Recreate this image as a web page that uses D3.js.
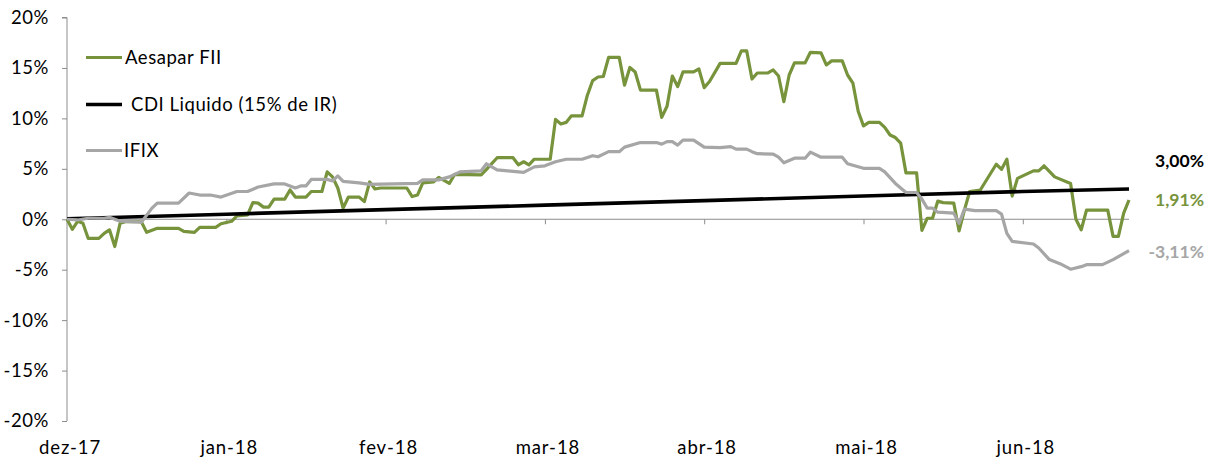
<!DOCTYPE html>
<html>
<head>
<meta charset="utf-8">
<script src="https://cdn.jsdelivr.net/npm/d3@7"></script>
<style>
  body { margin: 0; background: #fff; }
  text { font-family: Lato, "Gill Sans", sans-serif; }
</style>
</head>
<body>
<div id="chart"></div>
<script>
// day index (from 1 Dec 2017) and cumulative return in %
const monthLabels = ["dez-17", "jan-18", "fev-18", "mar-18", "abr-18", "mai-18", "jun-18"];
const monthDays = [0, 30, 60, 90, 120, 150, 180];
const yTicks = [-20, -15, -10, -5, 0, 5, 10, 15, 20];

const aesapar = [
  [0, 0.0], [1, -1.0], [2, -0.2], [3, -0.4], [4, -1.9], [6, -1.9], [7, -1.4], [8, -1.05],
  [9, -2.7], [10, -0.4], [11, -0.25], [14, -0.25], [15, -1.3], [17, -0.9], [21, -0.9],
  [22, -1.2], [24, -1.3], [25, -0.8], [28, -0.8], [29, -0.45], [31, -0.2], [32, 0.33],
  [34, 0.43], [35, 1.65], [36, 1.6], [37, 1.2], [38, 1.2], [39, 2.0], [41, 2.0], [42, 2.9],
  [43, 2.2], [45, 2.2], [46, 2.75], [48, 2.75], [49, 4.7], [50, 4.2], [51, 3.1], [52, 1.1],
  [53, 2.2], [55, 2.2], [56, 1.75], [57, 3.7], [58, 3.0], [59, 3.1], [64, 3.1], [65, 2.25],
  [66, 2.4], [67, 3.6], [69, 3.7], [70, 4.15], [72, 3.55], [73, 4.45], [78, 4.4], [79, 4.95],
  [81, 6.1], [84, 6.1], [85, 5.4], [86, 5.7], [87, 5.4], [88, 5.95], [91, 5.95], [92, 9.9],
  [93, 9.45], [94, 9.6], [95, 10.25], [97, 10.25], [98, 12.3], [99, 13.75], [100, 14.1],
  [101, 14.15], [102, 16.05], [104, 16.05], [105, 13.3], [106, 15.05], [107, 14.6],
  [108, 12.8], [111, 12.8], [112, 10.1], [113, 11.2], [114, 14.2], [115, 13.15], [116, 14.6],
  [118, 14.6], [119, 14.9], [120, 13.05], [121, 13.65], [123, 15.45], [126, 15.45],
  [127, 16.7], [128, 16.7], [129, 13.9], [130, 14.5], [132, 14.5], [133, 14.8], [134, 14.2],
  [135, 11.65], [136, 14.3], [137, 15.5], [139, 15.5], [140, 16.55], [142, 16.5], [143, 15.3],
  [144, 15.7], [146, 15.7], [147, 14.3], [148, 13.5], [149, 10.7], [150, 9.25], [151, 9.6],
  [153, 9.6], [154, 9.1], [155, 8.35], [156, 8.1], [157, 7.55], [158, 4.6], [160, 4.6],
  [161, -1.1], [162, 0.1], [163, 0.1], [164, 1.8], [165, 1.65], [167, 1.6], [168, -1.15],
  [169, 0.9], [170, 2.75], [172, 2.9], [175, 5.45], [176, 4.95], [177, 5.95], [178, 2.3],
  [179, 4.05], [180, 4.3], [182, 4.8], [183, 4.8], [184, 5.3], [186, 4.2], [189, 3.55],
  [190, 0.0], [191, -1.05], [192, 0.9], [196, 0.9], [197, -1.7], [198, -1.7], [199, 0.6],
  [200, 1.91]
];

const cdi = [
  [0, 0.05], [30, 0.5], [60, 0.95], [90, 1.4], [120, 1.85], [150, 2.3], [180, 2.75], [200, 3.0]
];

const ifix = [
  [0, 0.0], [2, -0.07], [4, 0.1], [7, 0.1], [8, 0.2], [10, -0.2], [14, -0.3], [16, 1.1],
  [17, 1.6], [21, 1.6], [23, 2.6], [25, 2.4], [27, 2.4], [29, 2.2], [32, 2.75], [34, 2.75],
  [36, 3.2], [39, 3.5], [41, 3.5], [43, 3.1], [44, 3.3], [45, 3.3], [46, 3.95], [49, 3.95],
  [50, 3.8], [51, 4.3], [52, 3.75], [55, 3.6], [57, 3.45], [66, 3.55], [67, 3.9], [70, 3.9],
  [72, 4.2], [74, 4.7], [78, 4.8], [79, 5.5], [81, 4.9], [83, 4.8], [86, 4.65], [88, 5.2],
  [90, 5.3], [92, 5.7], [94, 5.95], [97, 5.95], [99, 6.3], [100, 6.2], [102, 6.7], [104, 6.7],
  [105, 7.15], [108, 7.6], [111, 7.6], [112, 7.45], [113, 7.7], [114, 7.7], [115, 7.35],
  [116, 7.85], [118, 7.85], [120, 7.15], [123, 7.1], [125, 7.2], [126, 6.95], [128, 6.95],
  [129, 6.7], [130, 6.5], [133, 6.45], [134, 6.15], [135, 5.6], [137, 6.05], [139, 6.05],
  [140, 6.65], [142, 6.15], [146, 6.15], [147, 5.5], [150, 5.05], [153, 5.05], [154, 4.7],
  [156, 3.55], [158, 2.65], [160, 2.65], [161, 2.0], [162, 1.1], [163, 1.1], [164, 0.7],
  [167, 0.6], [168, -0.4], [169, 1.0], [171, 0.85], [175, 0.85], [176, 0.5], [177, -1.4],
  [178, -2.2], [182, -2.45], [183, -2.85], [185, -4.0], [187, -4.4], [189, -4.95],
  [191, -4.7], [192, -4.5], [195, -4.5], [197, -4.0], [198, -3.7], [200, -3.11]
];

const series = [
  { name: "Aesapar FII", data: aesapar, color: "#77933c", width: 3.2, end: "1,91%", legendGap: 3 },
  { name: "CDI Liquido (15% de IR)", data: cdi, color: "#000000", width: 3.6, end: "3,00%", legendGap: 9 },
  { name: "IFIX", data: ifix, color: "#a6a6a6", width: 3.2, end: "-3,11%", legendGap: 2 }
];

const width = 1211, height = 461;
const axisColor = "#8c8c8c";

const x = d3.scaleLinear().domain([0, 200]).range([67, 1129]);
const y = d3.scaleLinear().domain([-20, 20]).range([421, 17.5]);

const svg = d3.select("#chart").append("svg")
  .attr("width", width)
  .attr("height", height);

// y axis
const yAxis = svg.append("g")
  .attr("transform", `translate(${x(0)},0)`)
  .call(d3.axisLeft(y).tickValues(yTicks).tickSize(5).tickPadding(13).tickFormat(d => d + "%"));
yAxis.select(".domain").attr("stroke", axisColor).attr("d", `M-5,${y(20)}H0V${y(-20)}`);
yAxis.selectAll(".tick line").attr("stroke", axisColor);
yAxis.selectAll(".tick text")
  .attr("fill", "#000")
  .style("font-size", "18.5px")
  .style("letter-spacing", "0.6px");

// zero axis with month ticks
const xAxis = svg.append("g")
  .attr("transform", `translate(0,${y(0)})`)
  .call(d3.axisBottom(x).tickValues(monthDays).tickSize(5).tickFormat(""));
xAxis.select(".domain").attr("stroke", axisColor).attr("d", `M${x(0)},0H${x(200)}`);
xAxis.selectAll(".tick line").attr("stroke", axisColor);
xAxis.selectAll(".tick").filter(d => d === 0).remove();

// month labels at the bottom
svg.append("g")
  .selectAll("text")
  .data(monthDays)
  .join("text")
  .attr("x", d => x(d) + 3)
  .attr("y", 448)
  .attr("dy", "0.35em")
  .attr("text-anchor", "middle")
  .style("font-size", "18.5px")
  .style("letter-spacing", "0.9px")
  .text((d, i) => monthLabels[i]);

const line = d3.line()
  .x(d => x(d[0]))
  .y(d => y(d[1]));

svg.append("g")
  .selectAll("path")
  .data(series)
  .join("path")
  .attr("fill", "none")
  .attr("stroke", d => d.color)
  .attr("stroke-width", d => d.width)
  .attr("stroke-linejoin", "round")
  .attr("d", d => line(d.data));

// legend
const legendY = [57.5, 104.5, 150.5];
const legend = svg.append("g")
  .selectAll("g")
  .data(series)
  .join("g")
  .attr("transform", (d, i) => `translate(86,${legendY[i]})`);

legend.append("line")
  .attr("x1", 0).attr("x2", 36)
  .attr("stroke", d => d.color)
  .attr("stroke-width", d => d.width);

legend.append("text")
  .attr("x", d => 36 + d.legendGap)
  .attr("dy", "0.35em")
  .style("font-size", "18.5px")
  .style("letter-spacing", "0.55px")
  .text(d => d.name);

// end value labels
const endY = [200, 161, 252];
svg.append("g")
  .selectAll("text")
  .data(series)
  .join("text")
  .attr("x", 1204)
  .attr("y", (d, i) => endY[i])
  .attr("dy", "0.35em")
  .attr("text-anchor", "end")
  .attr("fill", d => d.color === "#000000" ? "#000" : d.color)
  .style("font-size", "17.5px")
  .style("font-weight", "bold")
  .text(d => d.end);
</script>
</body>
</html>
